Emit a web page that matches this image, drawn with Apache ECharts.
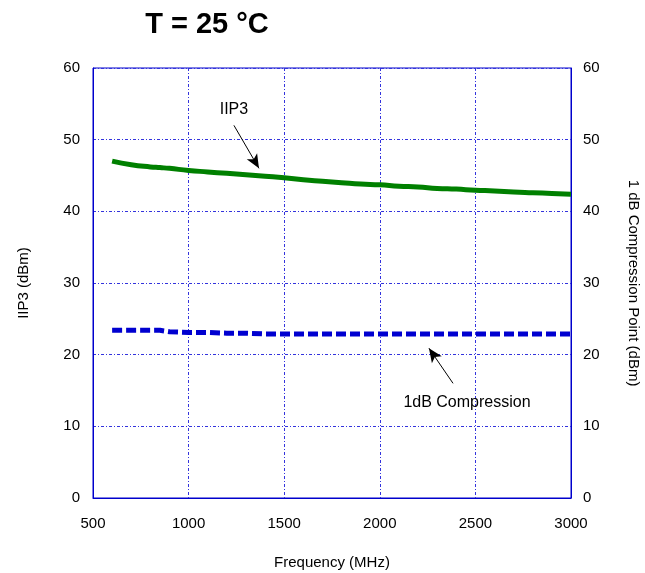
<!DOCTYPE html>
<html><head><meta charset="utf-8">
<script src="https://cdn.jsdelivr.net/npm/echarts@6/dist/echarts.min.js"></script>
<style>html,body{margin:0;padding:0;background:#fff;overflow:hidden}#c{width:645px;height:573px}</style>
</head><body><div id="c"></div>
<script>
const freq = [600,700,800,850,900,1000,1100,1200,1300,1400,1500,1600,1700,1800,1900,2000,2100,2200,2300,2400,2500,2600,2700,2800,2900,3000];
const iip3 = [47.0,46.5,46.2,46.1,46.0,45.7,45.5,45.3,45.1,44.9,44.7,44.4,44.2,44.0,43.8,43.7,43.5,43.4,43.2,43.1,42.95,42.85,42.7,42.6,42.5,42.4];
const p1db = [23.4,23.4,23.4,23.4,23.2,23.1,23.1,23.0,23.0,22.9,22.9,22.9,22.9,22.9,22.9,22.9,22.9,22.9,22.9,22.9,22.9,22.9,22.9,22.9,22.9,22.9];
const xTicks = [500,1000,1500,2000,2500,3000];
const yTicks = [0,10,20,30,40,50,60];
const annIIP3 = {label:'IIP3', text:[1237,54.2], from:[1237,52.0], to:[1368,46.0]};
const ann1dB = {label:'1dB Compression', text:[2456,13.3], from:[2383,16.0], to:[2257,20.9]};

const font = 'Liberation Sans, Arial, sans-serif';
const blue = '#0000cc';
const el = document.getElementById('c');
const chart = echarts.init(el, null, {width:645, height:573});
const gridLine = {show:true, lineStyle:{color:'#3333dd', width:1, type:[3,2,1,2]}};
chart.setOption({
  animation:false,
  title:{text:'T = 25 °C', left:202, top:5, textAlign:'center',
    textStyle:{fontFamily:font, fontSize:29, fontWeight:'bold', color:'#000'}},
  grid:{left:93, right:74, top:68, bottom:75, show:true, borderColor:blue, borderWidth:1,
    backgroundColor:'transparent', outerBoundsMode:'none', containLabel:false},
  xAxis:{type:'value', min:xTicks[0], max:xTicks[xTicks.length-1], interval:500,
    name:'Frequency (MHz)', nameLocation:'middle', nameGap:57,
    nameTextStyle:{fontFamily:font, fontSize:15, color:'#000'},
    axisLine:{show:true, lineStyle:{color:blue}}, axisTick:{show:false},
    axisLabel:{fontFamily:font, fontSize:15, color:'#000', margin:18, formatter:v=>String(v)},
    splitLine:gridLine},
  yAxis:[
    {type:'value', min:0, max:60, interval:10, position:'left',
     name:'IIP3 (dBm)', nameLocation:'middle', nameGap:62, nameRotate:90,
     nameTextStyle:{fontFamily:font, fontSize:15, color:'#000'},
     axisLine:{show:true, lineStyle:{color:blue}}, axisTick:{show:false},
     axisLabel:{fontFamily:font, fontSize:15, color:'#000', margin:13},
     splitLine:gridLine},
    {type:'value', min:0, max:60, interval:10, position:'right',
     name:'1 dB Compression Point (dBm)', nameLocation:'middle', nameGap:55, nameRotate:-90,
     nameTextStyle:{fontFamily:font, fontSize:15, color:'#000'},
     axisLine:{show:true, lineStyle:{color:blue}}, axisTick:{show:false},
     axisLabel:{fontFamily:font, fontSize:15, color:'#000', margin:12},
     splitLine:{show:false}}
  ],
  series:[
    {type:'line', name:'IIP3', data:freq.map((f,i)=>[f,iip3[i]]), showSymbol:false, smooth:true,
     lineStyle:{color:'#008000', width:5}, z:3,
     markLine:{silent:true, symbol:['none','arrow'], symbolSize:[9,14], animation:false,
       lineStyle:{color:'#000', width:1, type:'solid'}, label:{show:false},
       data:[[{coord:annIIP3.from},{coord:annIIP3.to}],[{coord:ann1dB.from},{coord:ann1dB.to}]]},
     markPoint:{silent:true, symbol:'circle', symbolSize:1, itemStyle:{color:'transparent'},
       label:{show:true, fontFamily:font, fontSize:16, color:'#000', position:'inside', formatter:p=>p.name},
       data:[{name:annIIP3.label, coord:annIIP3.text},{name:ann1dB.label, coord:ann1dB.text}]}
    },
    {type:'line', name:'1dB', data:freq.map((f,i)=>[f,p1db[i]]), showSymbol:false,
     lineStyle:{color:'#0000d0', width:5, type:[10,4]}, z:3}
  ]
});
</script></body></html>
